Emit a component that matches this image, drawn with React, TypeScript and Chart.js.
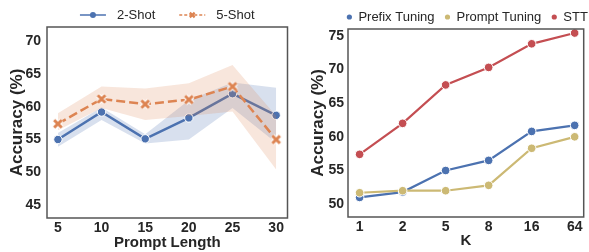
import React, { useEffect, useRef } from 'react';
import { Chart, registerables } from 'chart.js';

Chart.register(...registerables);

// ---------- data ----------
const promptLengths = [5, 10, 15, 20, 25, 30];
const twoShot = [55.0, 59.2, 55.1, 58.3, 62.0, 58.7];
const twoShotLow = [53.9, 58.0, 54.4, 55.0, 59.8, 54.5];
const twoShotHigh = [56.0, 59.9, 55.8, 61.0, 63.7, 62.9];
const fiveShot = [57.4, 61.2, 60.4, 61.1, 63.1, 55.0];
const fiveShotLow = [56.4, 59.8, 58.0, 58.6, 59.3, 50.4];
const fiveShotHigh = [59.0, 63.1, 62.8, 63.6, 66.4, 58.6];
const leftYTicks = [45, 50, 55, 60, 65, 70];

const kLabels = ['1', '2', '5', '8', '16', '64'];
const prefixTuning = [51.0, 51.8, 55.0, 56.5, 60.8, 61.7];
const promptTuning = [51.7, 52.0, 52.0, 52.8, 58.3, 60.0];
const stt = [57.4, 62.0, 67.7, 70.3, 73.8, 75.4];
const rightYTicks = [50, 55, 60, 65, 70, 75];

// ---------- style ----------
const FAMILY = "'Liberation Sans', Arial, sans-serif";
const TEXT = '#262626';
const SPINE = '#555555';
const BLUE = '#4C72B0';
const ORANGE = '#DD8452';
const RED = '#C44E52';
const SAND = '#CCB974';

Chart.defaults.font.family = FAMILY;

function drawX(g: CanvasRenderingContext2D, cx: number, cy: number, a: number, color: string, w: number, edge: number) {
  g.save();
  g.lineCap = 'butt';
  g.setLineDash([]);
  const seg = () => {
    g.beginPath();
    g.moveTo(cx - a, cy - a);
    g.lineTo(cx + a, cy + a);
    g.moveTo(cx - a, cy + a);
    g.lineTo(cx + a, cy - a);
    g.stroke();
  };
  if (edge > 0) {
    g.strokeStyle = '#ffffff';
    g.lineWidth = w + edge * 2;
    seg();
  }
  g.strokeStyle = color;
  g.lineWidth = w;
  seg();
  g.restore();
}

function makeXImage(color: string) {
  const c = document.createElement('canvas');
  c.width = 14;
  c.height = 14;
  const g = c.getContext('2d')!;
  drawX(g, 7, 7, 3.8, color, 3, 1);
  return c;
}

const framePlugin = {
  id: 'frame',
  afterDraw(chart: any) {
    const { ctx, chartArea: a } = chart;
    ctx.save();
    ctx.strokeStyle = SPINE;
    ctx.lineWidth = 1.5;
    ctx.strokeRect(a.left, a.top, a.right - a.left, a.bottom - a.top);
    ctx.restore();
  },
};

type LegendItem = { label: string; color: string; dash?: number[]; marker: 'circle' | 'x' };

function legendPlugin(items: LegendItem[], cfg: { y: number; line: boolean; sampleW: number; textGap: number; itemGap: number; shift: number; fontSize: number }) {
  return {
    id: 'customLegend',
    afterDraw(chart: any) {
      const { ctx, chartArea: a } = chart;
      ctx.save();
      ctx.font = `${cfg.fontSize}px ${FAMILY}`;
      ctx.textBaseline = 'middle';
      const widths = items.map((it) => ctx.measureText(it.label).width);
      let total = 0;
      items.forEach((_, i) => {
        total += cfg.sampleW + cfg.textGap + widths[i];
        if (i < items.length - 1) total += cfg.itemGap;
      });
      let x = (a.left + a.right) / 2 - total / 2 + cfg.shift;
      const y = cfg.y;
      items.forEach((it, i) => {
        const cx = x + cfg.sampleW / 2;
        if (cfg.line) {
          ctx.strokeStyle = it.color;
          ctx.lineWidth = 1.5;
          ctx.setLineDash(it.dash || []);
          ctx.beginPath();
          ctx.moveTo(x, y);
          ctx.lineTo(x + cfg.sampleW, y);
          ctx.stroke();
          ctx.setLineDash([]);
        }
        if (it.marker === 'circle') {
          ctx.fillStyle = it.color;
          ctx.beginPath();
          ctx.arc(cx, y, cfg.line ? 3 : 2.6, 0, Math.PI * 2);
          ctx.fill();
        } else {
          drawX(ctx, cx, y, 2.4, it.color, 2.2, 0);
        }
        ctx.fillStyle = TEXT;
        ctx.textAlign = 'left';
        ctx.fillText(it.label, x + cfg.sampleW + cfg.textGap, y + 0.5);
        x += cfg.sampleW + cfg.textGap + widths[i] + cfg.itemGap;
      });
      ctx.restore();
    },
  };
}

const tickFont = { size: 14, weight: 'bold' as const, family: FAMILY };
const xTitleFont = { size: 15, weight: 'bold' as const, family: FAMILY };
const yTitleFont = { size: 17, weight: 'bold' as const, family: FAMILY };

function LeftChart() {
  const ref = useRef<HTMLCanvasElement>(null);
  useEffect(() => {
    const xImg = makeXImage(ORANGE);
    const pts = (arr: number[]) => arr.map((v, i) => ({ x: promptLengths[i], y: v }));
    const band = (arr: number[], fillColor: string | null, order: number) => ({
      data: pts(arr),
      borderWidth: 0,
      borderColor: 'transparent',
      pointRadius: 0,
      fill: fillColor ? '+1' : false,
      backgroundColor: fillColor || 'transparent',
      order,
      tension: 0,
    });
    const chart = new Chart(ref.current!, {
      type: 'line',
      data: {
        datasets: [
          band(twoShotHigh, 'rgba(76,114,176,0.22)', 4),
          band(twoShotLow, null, 4),
          {
            label: '2-Shot',
            data: pts(twoShot),
            borderColor: BLUE,
            backgroundColor: BLUE,
            borderWidth: 2.5,
            pointRadius: 4.2,
            pointBackgroundColor: BLUE,
            pointBorderColor: '#ffffff',
            pointBorderWidth: 1,
            fill: false,
            order: 3,
          } as any,
          band(fiveShotHigh, 'rgba(221,132,82,0.2)', 2),
          band(fiveShotLow, null, 2),
          {
            label: '5-Shot',
            data: pts(fiveShot),
            borderColor: ORANGE,
            backgroundColor: ORANGE,
            borderWidth: 2.5,
            borderDash: [9, 4],
            pointStyle: xImg,
            pointRadius: 5,
            fill: false,
            order: 1,
          } as any,
        ],
      },
      options: {
        responsive: false,
        animation: false,
        devicePixelRatio: 1,
        layout: { padding: { top: 27, right: 4, left: 0, bottom: 0 } },
        plugins: { legend: { display: false }, tooltip: { enabled: false } },
        scales: {
          x: {
            type: 'linear',
            min: 3.75,
            max: 31.3,
            afterBuildTicks: (s: any) => {
              s.ticks = promptLengths.map((v) => ({ value: v }));
            },
            afterFit: (s: any) => {
              s.height = 34;
            },
            grid: { display: false, drawTicks: false },
            border: { display: false },
            ticks: { font: tickFont, color: TEXT, padding: 2, autoSkip: false, maxRotation: 0 },
            title: { display: true, text: 'Prompt Length', font: xTitleFont, color: TEXT, padding: { top: 0, bottom: 0 } },
          },
          y: {
            type: 'linear',
            min: 43,
            max: 72.2,
            afterBuildTicks: (s: any) => {
              s.ticks = leftYTicks.map((v) => ({ value: v }));
            },
            afterFit: (s: any) => {
              s.width = 47;
            },
            grid: { display: false, drawTicks: false },
            border: { display: false },
            ticks: { font: tickFont, color: TEXT, padding: 6 },
            title: { display: true, text: 'Accuracy (%)', font: yTitleFont, color: TEXT, padding: { top: 7, bottom: 0 } },
          },
        },
      } as any,
      plugins: [
        framePlugin,
        legendPlugin(
          [
            { label: '2-Shot', color: BLUE, marker: 'circle' },
            { label: '5-Shot', color: ORANGE, marker: 'x', dash: [3, 2] },
          ],
          { y: 15, line: true, sampleW: 26, textGap: 11, itemGap: 24, shift: 0, fontSize: 13 }
        ),
      ],
    });
    return () => chart.destroy();
  }, []);
  return <canvas ref={ref} width={295} height={252} style={{ display: 'block' }} />;
}

function RightChart() {
  const ref = useRef<HTMLCanvasElement>(null);
  useEffect(() => {
    const pts = (arr: number[]) => arr.map((v, i) => ({ x: i, y: v }));
    const series = (label: string, arr: number[], color: string, order: number) => ({
      label,
      data: pts(arr),
      borderColor: color,
      backgroundColor: color,
      borderWidth: 2.2,
      pointRadius: 4.3,
      pointBackgroundColor: color,
      pointBorderColor: '#ffffff',
      pointBorderWidth: 1,
      fill: false,
      order,
    });
    const chart = new Chart(ref.current!, {
      type: 'line',
      data: {
        datasets: [
          series('Prefix Tuning', prefixTuning, BLUE, 3),
          series('Prompt Tuning', promptTuning, SAND, 2),
          series('STT', stt, RED, 1),
        ],
      },
      options: {
        responsive: false,
        animation: false,
        devicePixelRatio: 1,
        layout: { padding: { top: 29, right: 2, left: 0, bottom: 0 } },
        plugins: { legend: { display: false }, tooltip: { enabled: false } },
        scales: {
          x: {
            type: 'linear',
            min: -0.27,
            max: 5.21,
            afterBuildTicks: (s: any) => {
              s.ticks = kLabels.map((_, i) => ({ value: i }));
            },
            afterFit: (s: any) => {
              s.height = 35;
            },
            grid: { display: false, drawTicks: false },
            border: { display: false },
            ticks: {
              font: tickFont,
              color: TEXT,
              padding: 2,
              autoSkip: false,
              maxRotation: 0,
              callback: (v: any) => kLabels[Math.round(Number(v))] ?? '',
            },
            title: { display: true, text: 'K', font: xTitleFont, color: TEXT, padding: { top: 0, bottom: 2 } },
          },
          y: {
            type: 'linear',
            min: 48.1,
            max: 76.0,
            afterBuildTicks: (s: any) => {
              s.ticks = rightYTicks.map((v) => ({ value: v }));
            },
            afterFit: (s: any) => {
              s.width = 53;
            },
            grid: { display: false, drawTicks: false },
            border: { display: false },
            ticks: { font: tickFont, color: TEXT, padding: 4 },
            title: { display: true, text: 'Accuracy (%)', font: yTitleFont, color: TEXT, padding: { top: 13, bottom: 0 } },
          },
        },
      } as any,
      plugins: [
        framePlugin,
        legendPlugin(
          [
            { label: 'Prefix Tuning', color: BLUE, marker: 'circle' },
            { label: 'Prompt Tuning', color: SAND, marker: 'circle' },
            { label: 'STT', color: RED, marker: 'circle' },
          ],
          { y: 17, line: false, sampleW: 5, textGap: 6.5, itemGap: 10.5, shift: 1.5, fontSize: 13 }
        ),
      ],
    });
    return () => chart.destroy();
  }, []);
  return <canvas ref={ref} width={294} height={252} style={{ display: 'block' }} />;
}

export default function App() {
  return (
    <div style={{ position: 'absolute', left: 0, top: 0, width: 589, height: 252, background: '#ffffff' }}>
      <div style={{ position: 'absolute', left: 0, top: 0, width: 295, height: 252 }}>
        <LeftChart />
      </div>
      <div style={{ position: 'absolute', left: 295, top: 0, width: 294, height: 252 }}>
        <RightChart />
      </div>
    </div>
  );
}
